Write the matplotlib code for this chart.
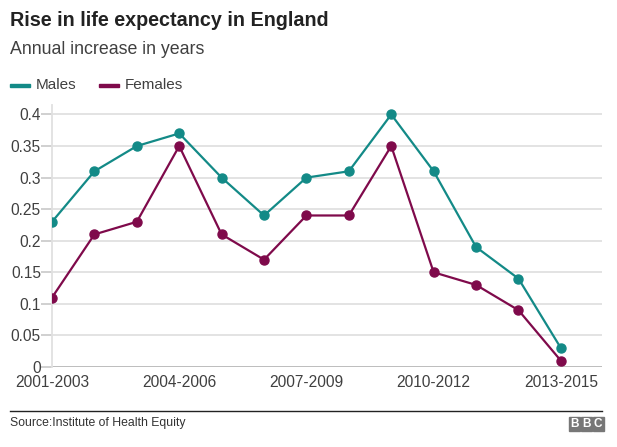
import matplotlib
matplotlib.use("Agg")
import matplotlib.pyplot as plt
from matplotlib.patches import Rectangle

plt.rcParams['font.family'] = ['Liberation Sans', 'DejaVu Sans']

periods = ["2001-2003", "2002-2004", "2003-2005", "2004-2006", "2005-2007",
           "2006-2008", "2007-2009", "2008-2010", "2009-2011", "2010-2012",
           "2011-2013", "2012-2014", "2013-2015"]
males = [0.23, 0.31, 0.35, 0.37, 0.30, 0.24, 0.30, 0.31, 0.40, 0.31, 0.19, 0.14, 0.03]
females = [0.11, 0.21, 0.23, 0.35, 0.21, 0.17, 0.24, 0.24, 0.35, 0.15, 0.13, 0.09, 0.01]
yticks = [0, 0.05, 0.1, 0.15, 0.2, 0.25, 0.3, 0.35, 0.4]
ytick_labels = ["0", "0.05", "0.1", "0.15", "0.2", "0.25", "0.3", "0.35", "0.4"]

teal = "#138a87"
maroon = "#7f0a4b"
W, H = 617, 447

fig = plt.figure(figsize=(W / 100, H / 100), dpi=100)
ax = fig.add_axes([52 / W, (H - 367) / H, (602 - 52) / W, (367 - 105) / H])

x = list(range(len(periods)))
ax.plot(x, males, color=teal, lw=1.6, marker="o", ms=6.5, zorder=3)
ax.plot(x, females, color=maroon, lw=1.6, marker="o", ms=6.5, zorder=3)

ax.set_xlim(0, 12.97)
ax.set_ylim(0, 0.415)
ax.set_yticks(yticks)
ax.set_yticklabels(ytick_labels)
ax.set_xticks(x[::3])
ax.set_xticklabels(periods[::3])
ax.grid(axis="y", color="#e0e0e0", lw=1.3)
ax.set_axisbelow(True)
for s in ["top", "right", "bottom"]:
    ax.spines[s].set_visible(False)
ax.spines["left"].set_color("#e0e0e0")
ax.spines["left"].set_linewidth(1.3)
ax.axhline(0, color="#bbbbbb", lw=1.3, zorder=1)
ax.tick_params(axis="y", length=8, color="#c8c8c8", width=1.2, labelsize=11.2,
               labelcolor="#404040", pad=0)
ax.tick_params(axis="x", length=0, labelsize=11.2, labelcolor="#404040", pad=6)

fig.text(10 / W, 1 - 20 / H, "Rise in life expectancy in England", fontsize=14.2,
         fontweight="bold", color="#222222", va="center")
fig.text(10 / W, 1 - 50 / H, "Annual increase in years", fontsize=12.8,
         color="#404040", va="center")

# legend
fig.add_artist(Rectangle((10 / W, 1 - 86.5 / H), 20 / W, 3 / H, color=teal,
                         transform=fig.transFigure))
fig.text(36 / W, 1 - 85 / H, "Males", fontsize=11, color="#404040", va="center")
fig.add_artist(Rectangle((99 / W, 1 - 86.5 / H), 20 / W, 3 / H, color=maroon,
                         transform=fig.transFigure))
fig.text(125 / W, 1 - 85 / H, "Females", fontsize=11, color="#404040", va="center")

# footer
fig.add_artist(plt.Line2D([10 / W, 602 / W], [1 - 411 / H, 1 - 411 / H],
                          color="#222222", lw=1, transform=fig.transFigure))
fig.text(10 / W, 1 - 423 / H, "Source:Institute of Health Equity", fontsize=8.8,
         color="#333333", va="center")
for i, ch in enumerate("BBC"):
    x0 = 569 + i * 12
    fig.add_artist(Rectangle((x0 / W, 1 - 431 / H), 10.5 / W, 14 / H, color="#777777",
                             transform=fig.transFigure))
    fig.text((x0 + 5.25) / W, 1 - 424 / H, ch, fontsize=8.5, fontweight="bold",
             color="white", ha="center", va="center")

fig.savefig("out.png", dpi=100)
